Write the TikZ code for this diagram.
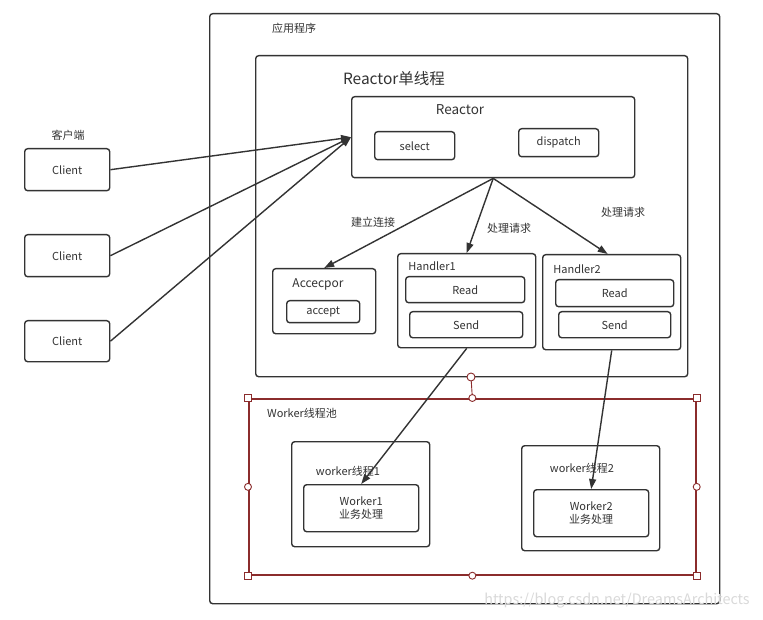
\documentclass[tikz,border=0pt]{standalone}
\usepackage{fontspec}
\setmainfont{Noto Sans CJK SC}
\usetikzlibrary{arrows.meta}
\definecolor{ln}{HTML}{333333}
\definecolor{sel}{HTML}{8B2C2C}
\tikzset{
  box/.style={draw=ln, line width=1.4pt, rounded corners=3pt, anchor=north west, inner sep=0pt, fill=white},
  lbl/.style={font=\fontsize{11}{13}\selectfont, text=ln, inner sep=0pt},
  conn/.style={draw=ln, line width=1.4pt, -{Triangle[length=10pt,width=7pt]}},
  hsq/.style={draw=sel, fill=white, line width=0.9pt, minimum size=7pt, inner sep=0pt},
  hci/.style={draw=sel, fill=white, line width=0.9pt, circle, minimum size=8pt, inner sep=0pt},
}
\begin{document}
\begin{tikzpicture}[x=1pt,y=-1pt]
\useasboundingbox (0,0) rectangle (763,620);
% application
\node[box, minimum width=510pt, minimum height=590pt] (app) at (209,13) {};
\node[lbl] (applbl) at (294,28) {应用程序};
% reactor single thread
\node[box, minimum width=432pt, minimum height=321pt] (rst) at (255,55) {};
\node[lbl, font=\fontsize{15.5}{18}\selectfont] (rstlbl) at (394,79) {Reactor单线程};
% reactor
\node[box, minimum width=283pt, minimum height=81pt] (reactor) at (351,96) {};
\node[lbl, font=\fontsize{13.5}{16}\selectfont] (reactorlbl) at (460,110) {Reactor};
\node[box, minimum width=80pt, minimum height=28pt] (select) at (374,131) {};
\node[lbl] at (select.center) {select};
\node[box, minimum width=80pt, minimum height=28pt] (dispatch) at (518,128) {};
\node[lbl] at (dispatch.center) {dispatch};
% clients
\node[lbl] (clientlbl) at (68,135) {客户端};
\node[box, minimum width=85pt, minimum height=42pt] (c1) at (24,148) {};
\node[lbl] at (c1.center) {Client};
\node[box, minimum width=85pt, minimum height=42pt] (c2) at (24,234) {};
\node[lbl] at (c2.center) {Client};
\node[box, minimum width=85pt, minimum height=41pt] (c3) at (24,320) {};
\node[lbl] at (c3.center) {Client};
% acceptor
\node[box, minimum width=103pt, minimum height=65pt] (acc) at (272,268) {};
\node[lbl, font=\fontsize{12}{14}\selectfont] (acclbl) at (318,284) {Accecpor};
\node[box, minimum width=73pt, minimum height=22pt] (accept) at (286,300) {};
\node[lbl] at (accept.center) {accept};
% handler1
\node[box, minimum width=138pt, minimum height=94pt] (h1) at (397,253) {};
\node[lbl] (h1lbl) at (432,266) {Handler1};
\node[box, minimum width=119pt, minimum height=26pt] (h1r) at (405,276) {};
\node[lbl] at (h1r.center) {Read};
\node[box, minimum width=113pt, minimum height=26pt] (h1s) at (409,311) {};
\node[lbl] at (h1s.center) {Send};
% handler2
\node[box, minimum width=138pt, minimum height=95pt] (h2) at (542,254) {};
\node[lbl] (h2lbl) at (577,269) {Handler2};
\node[box, minimum width=118pt, minimum height=27pt] (h2r) at (555,279) {};
\node[lbl] at (h2r.center) {Read};
\node[box, minimum width=112pt, minimum height=26pt] (h2s) at (558,311) {};
\node[lbl] at (h2s.center) {Send};
% edge labels
\node[lbl] (l1) at (373,222) {建立连接};
\node[lbl] (l2) at (509,228) {处理请求};
\node[lbl] (l3) at (623,212) {处理请求};
% worker pool
\node[box, draw=sel, line width=1.7pt, rounded corners=0pt, fill=none, minimum width=447pt, minimum height=176pt] (pool) at (248,398) {};
\node[lbl] (poollbl) at (302,413) {Worker线程池};
\node[box, minimum width=138pt, minimum height=105pt] (wt1) at (291,441) {};
\node[lbl] (wt1lbl) at (348,471) {worker线程1};
\node[box, minimum width=115pt, minimum height=47pt] (w1) at (303,484) {};
\node[lbl, align=center] at (w1.center) {Worker1\\业务处理};
\node[box, minimum width=138pt, minimum height=105pt] (wt2) at (521,445) {};
\node[lbl] (wt2lbl) at (582,468) {worker线程2};
\node[box, minimum width=115pt, minimum height=47pt] (w2) at (533,489) {};
\node[lbl, align=center] at (w2.center) {Worker2\\业务处理};
% selection handles
\coordinate (rot) at (471,377);
\draw[sel, line width=0.9pt] (rot) -- (pool.north);
\node[hci] (hrot) at (rot) {};
\node[hsq] at (pool.north west) {};
\node[hsq] at (pool.north east) {};
\node[hsq] at (pool.south west) {};
\node[hsq] at (pool.south east) {};
\node[hci, minimum size=7pt] at (pool.north) {};
\node[hci, minimum size=7pt] at (pool.south) {};
\node[hci, minimum size=7pt] at (pool.west) {};
\node[hci, minimum size=7pt] at (pool.east) {};
% connectors
\draw[conn] (c1.east) -- (reactor.west);
\draw[conn] (c2.east) -- (reactor.west);
\draw[conn] (c3.east) -- (reactor.west);
\draw[conn] (reactor.south) -- (acc.north);
\draw[conn] (reactor.south) -- (h1.north);
\draw[conn] (reactor.south) -- ([xshift=-4pt]h2.north);
\draw[conn] (h1.south) -- (w1.north);
\draw[conn] (h2.south) -- (w2.north);
% watermark
\node[lbl, text=gray!30, font=\fontsize{14.4}{16}\selectfont] (wm) at (617,601) {https://blog.csdn.net/DreamsArchitects};
\end{tikzpicture}
\end{document}
